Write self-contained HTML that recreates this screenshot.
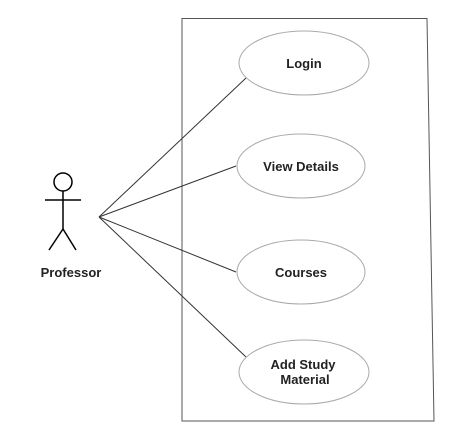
<!DOCTYPE html>
<html><head><style>html,body{margin:0;padding:0;background:#fff;}svg{display:block}</style></head>
<body>
<svg width="451" height="440" viewBox="0 0 451 440" xmlns="http://www.w3.org/2000/svg">
<polygon points="182,18.5 427,18.5 434,421 182,421" fill="none" stroke="#555" stroke-width="1"/>
<g stroke="#333" stroke-width="1" fill="none">
<line x1="99" y1="217" x2="246" y2="78"/>
<line x1="99" y1="217" x2="236" y2="166"/>
<line x1="99" y1="217" x2="236" y2="272"/>
<line x1="99" y1="217" x2="246" y2="357"/>
</g>
<g fill="#fff" stroke="#aaa" stroke-width="1">
<ellipse cx="304" cy="63" rx="65" ry="32"/>
<ellipse cx="301" cy="166" rx="64" ry="32"/>
<ellipse cx="301" cy="272" rx="64" ry="32"/>
<ellipse cx="304" cy="372" rx="65" ry="32"/>
</g>
<g stroke="#000" stroke-width="1.5" fill="none">
<circle cx="63" cy="182" r="9"/>
<line x1="63" y1="191" x2="63" y2="229"/>
<line x1="45" y1="200" x2="81" y2="200"/>
<line x1="63" y1="229" x2="49" y2="250"/>
<line x1="63" y1="229" x2="76" y2="250"/>
</g>
<g font-family="Liberation Sans, sans-serif" font-weight="bold" font-size="13" fill="#222" text-anchor="middle">
<text x="304" y="68">Login</text>
<text x="301" y="171">View Details</text>
<text x="301" y="277">Courses</text>
<text x="303" y="369">Add Study</text>
<text x="305" y="384">Material</text>
<text x="71" y="277">Professor</text>
</g>
</svg>
</body></html>
